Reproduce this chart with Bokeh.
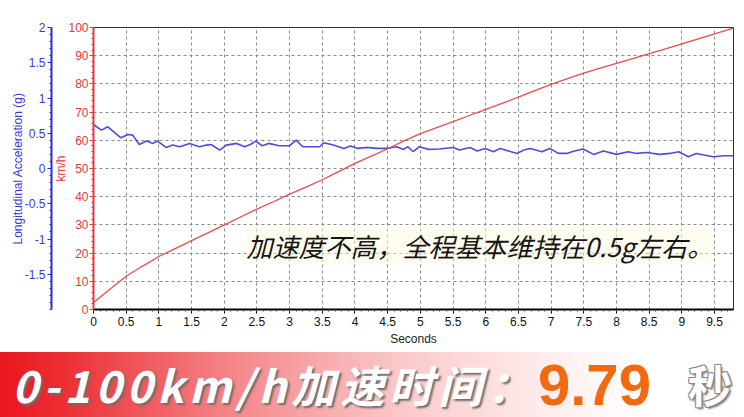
import numpy as np
from bokeh.plotting import figure
from bokeh.layouts import column
from bokeh.models import (Range1d, LinearAxis, SingleIntervalTicker, FixedTicker, Label,
                          NumeralTickFormatter, Div)
from bokeh.embed import file_html
from bokeh.resources import INLINE

# speed trace (km/h)
time_s = [0, 0.25, 0.5, 0.75, 1, 1.25, 1.5, 1.75, 2, 2.25, 2.5, 2.75, 3, 3.25, 3.5, 3.75,
          4, 4.25, 4.5, 4.75, 5, 5.25, 5.5, 5.75, 6, 6.25, 6.5, 6.75, 7, 7.25, 7.5, 7.75,
          8, 8.25, 8.5, 8.75, 9, 9.25, 9.5, 9.79]
speed_kmh = [2.5, 7.2, 11.8, 15.4, 18.8, 21.6, 24.4, 27.2, 30.0, 32.8, 35.6, 38.2, 40.9, 43.4,
             46.0, 48.9, 51.8, 54.4, 57.0, 59.8, 62.4, 64.5, 66.6, 68.8, 71.0, 73.1, 75.3, 77.6,
             79.8, 81.9, 83.8, 85.6, 87.3, 89.0, 90.7, 92.4, 94.2, 96.0, 97.7, 99.8]

# longitudinal acceleration (g)
acc_time = [0.00, 0.12, 0.22, 0.42, 0.53, 0.60, 0.70, 0.81, 0.91, 0.98, 1.11, 1.21, 1.32, 1.47,
            1.62, 1.73, 1.80, 1.93, 2.03, 2.19, 2.31, 2.40, 2.48, 2.58, 2.68, 2.84, 3.00, 3.10,
            3.20, 3.46, 3.52, 3.67, 3.83, 3.93, 4.04, 4.18, 4.33, 4.48, 4.64, 4.74, 4.81, 4.89,
            4.98, 5.13, 5.29, 5.50, 5.60, 5.76, 5.87, 5.99, 6.12, 6.22, 6.35, 6.48, 6.58, 6.68,
            6.86, 6.98, 7.11, 7.24, 7.33, 7.49, 7.65, 7.80, 8.00, 8.18, 8.31, 8.46, 8.66, 8.82,
            8.95, 9.10, 9.22, 9.48, 9.64, 9.79]
acc_g = [0.624, 0.544, 0.591, 0.436, 0.483, 0.473, 0.341, 0.389, 0.356, 0.389, 0.299, 0.332,
         0.308, 0.356, 0.308, 0.332, 0.341, 0.261, 0.332, 0.356, 0.308, 0.340, 0.389, 0.323,
         0.356, 0.323, 0.323, 0.403, 0.308, 0.308, 0.365, 0.332, 0.285, 0.318, 0.285, 0.299,
         0.285, 0.285, 0.308, 0.271, 0.308, 0.238, 0.308, 0.271, 0.276, 0.299, 0.261, 0.299,
         0.247, 0.285, 0.238, 0.285, 0.247, 0.214, 0.261, 0.285, 0.238, 0.285, 0.214, 0.214,
         0.240, 0.276, 0.200, 0.247, 0.200, 0.238, 0.214, 0.228, 0.200, 0.214, 0.238, 0.167,
         0.214, 0.167, 0.181, 0.181]

g_ticks = [-1.5, -1, -0.5, 0, 0.5, 1, 1.5, 2]
g_minor = [round(v, 1) for v in np.arange(-2.0, 2.001, 0.1)]

note_text = "加速度不高，全程基本维持在0.5g左右。"
banner_text = "0-100km/h加速时间："
banner_value = "9.79"
banner_unit = "秒"

AX_FONT = "Liberation Sans"
CJK = "Noto Sans CJK SC"
RED = "#e23a3a"
BLUE = "#2b2bd0"

p = figure(width=744, height=352, output_backend="svg", toolbar_location=None,
           x_range=Range1d(0, 9.79), y_range=Range1d(0, 100),
           min_border_left=93, min_border_right=11, min_border_top=27, min_border_bottom=43,
           border_fill_color="white", background_fill_color="white",
           outline_line_color="#333333", outline_line_width=1)
p.extra_y_ranges = {"g": Range1d(-2, 2)}

# x axis
xa = p.xaxis[0]
xa.ticker = SingleIntervalTicker(interval=0.5, num_minor_ticks=5)
xa.formatter = NumeralTickFormatter(format="0.[0]")
xa.axis_line_color = "black"
xa.axis_line_width = 2
xa.major_tick_line_color = "black"
xa.major_tick_out = 4
xa.major_tick_in = 0
xa.minor_tick_line_color = "#444444"
xa.minor_tick_out = 2
xa.minor_tick_in = 0
xa.major_label_text_font = AX_FONT
xa.major_label_text_font_size = "12px"
xa.major_label_text_color = "#111111"
xa.major_label_standoff = 3
xa.axis_label = "Seconds"
xa.axis_label_text_font = AX_FONT
xa.axis_label_text_font_size = "12px"
xa.axis_label_text_font_style = "normal"
xa.axis_label_text_color = "#222222"
xa.axis_label_standoff = 3

# red km/h axis
ra = p.yaxis[0]
ra.ticker = SingleIntervalTicker(interval=10, num_minor_ticks=5)
ra.axis_line_color = RED
ra.axis_line_width = 2
ra.major_tick_line_color = RED
ra.major_tick_out = 4
ra.major_tick_in = 0
ra.minor_tick_line_color = RED
ra.minor_tick_out = 2
ra.minor_tick_in = 0
ra.major_label_text_font = AX_FONT
ra.major_label_text_font_size = "12px"
ra.major_label_text_color = RED
ra.major_label_standoff = 1
ra.axis_label = "km/h"
ra.axis_label_text_font = AX_FONT
ra.axis_label_text_font_size = "12px"
ra.axis_label_text_font_style = "normal"
ra.axis_label_text_color = RED
ra.axis_label_standoff = -3

# blue g axis
ba = LinearAxis(y_range_name="g", ticker=FixedTicker(ticks=g_ticks, minor_ticks=g_minor),
                formatter=NumeralTickFormatter(format="0.[0]"))
ba.axis_line_color = BLUE
ba.axis_line_width = 2
ba.major_tick_line_color = BLUE
ba.major_tick_out = 4
ba.major_tick_in = 0
ba.minor_tick_line_color = BLUE
ba.minor_tick_out = 2
ba.minor_tick_in = 0
ba.major_label_text_font = AX_FONT
ba.major_label_text_font_size = "12px"
ba.major_label_text_color = "#3a3ad0"
ba.major_label_standoff = 2
ba.axis_label = "Longitudinal Acceleration (g)"
ba.axis_label_text_font = AX_FONT
ba.axis_label_text_font_size = "12px"
ba.axis_label_text_font_style = "normal"
ba.axis_label_text_color = "#3a3ad0"
ba.axis_label_standoff = -3
p.add_layout(ba, "left")

for g in (p.xgrid[0], p.ygrid[0]):
    g.grid_line_color = "#8a8a8a"
    g.grid_line_dash = "3 3"
    g.grid_line_width = 1

p.line(acc_time, acc_g, y_range_name="g", line_color="#4d4dd8", line_width=1.6)
p.line(time_s, speed_kmh, line_color="#e84c4c", line_width=1.3)

p.add_layout(Label(x=153, y=64, x_units="screen", y_units="screen", text=note_text,
                   text_font=CJK, text_font_size="26px", text_font_style="italic",
                   text_color="#151515", text_baseline="middle",
                   background_fill_color="#fffbe0", background_fill_alpha=0.5))

# banner strip below the chart (real HTML text)
span_base = "position:absolute; top:0px; height:65px; line-height:65px; white-space:nowrap; font-weight:bold;"
banner_html = (
    '<div style="position:relative; width:744px; height:65px; overflow:hidden; '
    'background:linear-gradient(to right, #e8161e 0px, #ec2d32 60px, #f58a8d 240px, '
    '#fbc8c8 400px, #fff0f0 560px, #ffffff 640px);">'
    f'<span style="{span_base} left:12px; font-family:\'Noto Sans CJK SC\'; font-size:44px; '
    f'letter-spacing:5px; font-style:italic; color:#ffffff; '
    f'text-shadow:2px 2px 2px #6e6e6e;">{banner_text}</span>'
    f'<span style="{span_base} left:538px; font-family:\'Liberation Sans\'; font-size:58px; '
    f'color:#f26a10;">{banner_value}</span>'
    f'<span style="{span_base} left:688px; font-family:\'Noto Sans CJK SC\'; font-size:44px; '
    f'color:#ffffff; text-shadow:1px 1px 0 #888, -1px -1px 0 #888, 1px -1px 0 #888, '
    f'-1px 1px 0 #888, 2px 2px 2px #777;">{banner_unit}</span>'
    '</div>'
)
banner = Div(text=banner_html, width=744, height=65, margin=0)

layout = column(p, banner, spacing=0)
open("out.html", "w").write(file_html(layout, INLINE))
